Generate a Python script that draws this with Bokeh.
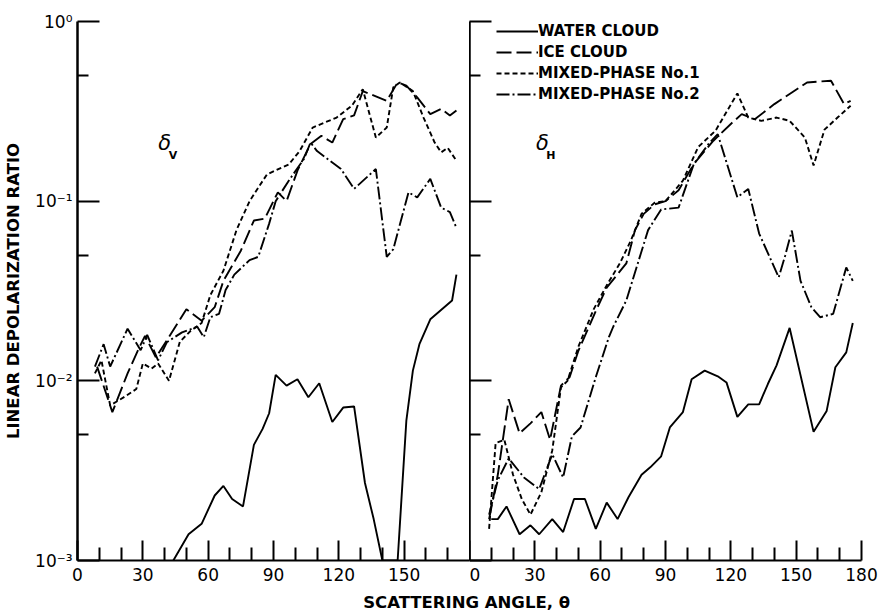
from bokeh.plotting import figure
from bokeh.models import Range1d, FixedTicker, Legend, LegendItem, Label
from bokeh.layouts import row, column
from bokeh.embed import file_html
from bokeh.resources import INLINE

FONT = "DejaVu Sans"
INK = "black"

# ---------------- data ----------------
X_MAJOR_V = [0, 30, 60, 90, 120, 150]
X_MAJOR_H = [0, 30, 60, 90, 120, 150, 180]
X_MINOR = [10, 20, 40, 50, 70, 80, 100, 110, 130, 140, 160, 170]
Y_MAJOR = [0.001, 0.01, 0.1, 1.0]
Y_MAJOR_LABELS = ["10\u207b\u00b3", "10\u207b\u00b2", "10\u207b\u00b9", "10\u2070"]
Y_MINOR = [0.005, 0.05, 0.5]

SERIES = ["WATER CLOUD", "ICE CLOUD", "MIXED-PHASE No.1", "MIXED-PHASE No.2"]

# delta_V panel
water_v_x = [44, 51, 57, 63, 67, 71, 76, 81, 85, 88, 91, 96, 101, 106, 111, 117, 122, 127, 132, 136, 140, 147, 151, 154, 157, 162, 172, 174]
water_v_y = [0.001, 0.0014, 0.0016, 0.0023, 0.0026, 0.0022, 0.002, 0.0044, 0.0054, 0.0066, 0.0108, 0.0094, 0.0102, 0.0081, 0.0097, 0.0059, 0.0071, 0.0072, 0.0027, 0.0017, 0.001, 0.001, 0.006, 0.0114, 0.016, 0.022, 0.028, 0.039]

ice_v_x = [9, 16, 23, 28, 31, 36, 41, 50, 57, 63, 67, 75, 81, 86, 92, 96, 101, 107, 112, 117, 122, 127, 131, 142, 147, 151, 156, 162, 167, 171, 174]
ice_v_y = [0.012, 0.0067, 0.011, 0.015, 0.0178, 0.0135, 0.0168, 0.025, 0.0216, 0.0257, 0.036, 0.053, 0.078, 0.08, 0.112, 0.1, 0.148, 0.208, 0.231, 0.212, 0.286, 0.3, 0.41, 0.362, 0.458, 0.44, 0.378, 0.305, 0.326, 0.3, 0.32]

mix1_v_x = [8, 11, 15, 22, 27, 30, 34, 37, 42, 47, 52, 57, 61, 67, 73, 79, 87, 97, 102, 108, 119, 126, 131, 137, 142, 145, 148, 154, 159, 164, 167, 170, 174]
mix1_v_y = [0.011, 0.013, 0.0073, 0.0082, 0.009, 0.0125, 0.0117, 0.0125, 0.010, 0.0165, 0.019, 0.021, 0.03, 0.041, 0.069, 0.1, 0.141, 0.16, 0.19, 0.257, 0.292, 0.34, 0.42, 0.226, 0.257, 0.43, 0.458, 0.41, 0.29, 0.212, 0.187, 0.198, 0.168]

mix2_v_x = [8, 12, 15, 23, 29, 32, 37, 41, 48, 55, 58, 61, 65, 68, 72, 79, 83, 88, 91, 97, 104, 107, 110, 121, 127, 137, 142, 145, 152, 156, 162, 167, 171, 174]
mix2_v_y = [0.012, 0.016, 0.012, 0.0195, 0.0148, 0.018, 0.013, 0.0164, 0.0186, 0.02, 0.0175, 0.0226, 0.0236, 0.032, 0.039, 0.047, 0.049, 0.075, 0.1, 0.13, 0.172, 0.212, 0.19, 0.151, 0.117, 0.151, 0.049, 0.054, 0.112, 0.105, 0.133, 0.092, 0.087, 0.071]

# delta_H panel
water_h_x = [10, 13, 17, 23, 28, 32, 38, 43, 48, 53, 58, 63, 68, 73, 79, 83, 88, 92, 98, 102, 108, 114, 118, 123, 128, 133, 137, 141, 147, 158, 164, 168, 173, 176]
water_h_y = [0.0017, 0.0017, 0.002, 0.0014, 0.00157, 0.0014, 0.0017, 0.00144, 0.0022, 0.0022, 0.0015, 0.0021, 0.0017, 0.00225, 0.003, 0.0033, 0.0038, 0.0055, 0.0067, 0.0102, 0.0114, 0.0106, 0.0098, 0.0063, 0.0074, 0.0074, 0.0096, 0.0122, 0.0197, 0.0052, 0.0068, 0.0119, 0.0144, 0.021]

ice_h_x = [9, 13, 18, 23, 28, 33, 37, 42, 46, 50, 58, 63, 72, 76, 80, 85, 90, 96, 103, 112, 120, 125, 131, 140, 147, 155, 166, 172, 175]
ice_h_y = [0.0017, 0.003, 0.0079, 0.0051, 0.0058, 0.0067, 0.0047, 0.0094, 0.0105, 0.0147, 0.0245, 0.033, 0.045, 0.069, 0.085, 0.096, 0.1, 0.115, 0.161, 0.217, 0.269, 0.305, 0.286, 0.347, 0.395, 0.458, 0.468, 0.347, 0.362]

mix1_h_x = [9, 12, 16, 20, 24, 28, 33, 38, 42, 45, 50, 57, 63, 69, 74, 79, 85, 90, 98, 105, 113, 123, 128, 134, 141, 147, 154, 158, 163, 169, 175]
mix1_h_y = [0.0015, 0.0045, 0.0047, 0.003, 0.0022, 0.0018, 0.0024, 0.0041, 0.0092, 0.01, 0.0155, 0.025, 0.034, 0.045, 0.06, 0.085, 0.098, 0.1, 0.13, 0.2, 0.247, 0.398, 0.292, 0.28, 0.292, 0.28, 0.226, 0.158, 0.25, 0.292, 0.34]

mix2_h_x = [9, 13, 18, 25, 32, 38, 43, 47, 51, 58, 64, 66, 72, 82, 88, 96, 103, 110, 114, 123, 128, 133, 142, 145, 148, 152, 157, 161, 167, 173, 176]
mix2_h_y = [0.0018, 0.0028, 0.0037, 0.0029, 0.0025, 0.0039, 0.0029, 0.0049, 0.0055, 0.0105, 0.0175, 0.02, 0.028, 0.069, 0.09, 0.092, 0.161, 0.21, 0.236, 0.105, 0.117, 0.066, 0.0377, 0.05, 0.0686, 0.036, 0.0257, 0.0226, 0.0236, 0.0428, 0.036]

# ---------------- styles ----------------
DASHES = ["solid", "15 5", "5 3", "13 3 2 3"]
LW = 1.9
PANEL_H = 590
TOP, BOTTOM = 21, 30


def make_panel(width, bl, br, xticks, left_labels):
    p = figure(width=width, height=PANEL_H, x_range=Range1d(0, 180),
               y_range=Range1d(0.001, 1.0), y_axis_type="log",
               output_backend="svg", toolbar_location=None,
               min_border_left=bl, min_border_right=br,
               min_border_top=TOP, min_border_bottom=BOTTOM)
    p.outline_line_color = None
    p.xgrid.visible = False
    p.ygrid.visible = False
    p.background_fill_color = "white"
    p.border_fill_color = "white"

    xa = p.xaxis[0]
    xa.ticker = FixedTicker(ticks=xticks, minor_ticks=X_MINOR)
    xa.major_tick_in = 20
    xa.major_tick_out = 0
    xa.minor_tick_in = 13
    xa.minor_tick_out = 0
    xa.axis_line_width = 2
    xa.major_tick_line_width = 2
    xa.minor_tick_line_width = 2
    xa.major_label_text_font = FONT
    xa.major_label_text_font_size = "17px"
    xa.major_label_text_color = INK
    xa.major_label_standoff = 7
    xa.axis_line_color = INK

    ya = p.yaxis[0]
    ya.ticker = FixedTicker(ticks=Y_MAJOR, minor_ticks=Y_MINOR)
    ya.major_tick_in = 22
    ya.major_tick_out = 0
    ya.minor_tick_in = 11
    ya.minor_tick_out = 0
    ya.axis_line_width = 2.5
    ya.major_tick_line_width = 2
    ya.minor_tick_line_width = 2
    if left_labels:
        ya.major_label_overrides = {v: l for v, l in zip(Y_MAJOR, Y_MAJOR_LABELS)}
        ya.major_label_text_font = FONT
        ya.major_label_text_font_size = "17px"
        ya.major_label_text_color = INK
        ya.major_label_standoff = 5
        ya.axis_label = "LINEAR DEPOLARIZATION RATIO"
        ya.axis_label_text_font = FONT
        ya.axis_label_text_font_size = "16.5px"
        ya.axis_label_text_font_style = "bold"
        ya.axis_label_text_color = INK
        ya.axis_label_standoff = 9
    else:
        ya.major_label_overrides = {v: "" for v in Y_MAJOR}
        ya.major_label_standoff = 0
    return p


def add_lines(p, xs, ys):
    rs = []
    for x, y, d in zip(xs, ys, DASHES):
        rs.append(p.line(x, y, line_color=INK, line_width=LW, line_dash=d))
    return rs


def add_delta(p, x, y, sub):
    p.add_layout(Label(x=x, y=y, text="\u03b4", text_font=FONT, text_font_size="21px",
                       text_color=INK, text_font_style="italic",
                       text_align="center", text_baseline="middle"))
    p.add_layout(Label(x=x + 3.8, y=y * 0.86, text=sub, text_font=FONT, text_font_size="11px",
                       text_color=INK, text_font_style="bold",
                       text_align="center", text_baseline="middle"))


pv = make_panel(469, 77, 0, X_MAJOR_V, True)
add_lines(pv, [water_v_x, ice_v_x, mix1_v_x, mix2_v_x], [water_v_y, ice_v_y, mix1_v_y, mix2_v_y])
add_delta(pv, 40, 0.21, "V")

ph = make_panel(410, 0, 18, X_MAJOR_H, False)
rs = add_lines(ph, [water_h_x, ice_h_x, mix1_h_x, mix2_h_x], [water_h_y, ice_h_y, mix1_h_y, mix2_h_y])
add_delta(ph, 33.5, 0.21, "H")

frame_h = PANEL_H - TOP - BOTTOM
ROW_H, ROW_GAP = 18, 3
leg_h = 4 * ROW_H + 3 * ROW_GAP
legend = Legend(items=[LegendItem(label=s, renderers=[r]) for s, r in zip(SERIES, rs)],
                location=(27, frame_h - 1 - leg_h), padding=0, margin=0, spacing=ROW_GAP,
                glyph_width=42, glyph_height=ROW_H, label_height=ROW_H, label_standoff=0,
                label_text_font=FONT, label_text_font_size="15px", label_text_font_style="bold",
                label_text_color=INK, label_text_baseline="middle",
                background_fill_alpha=0, border_line_color=None)
ph.add_layout(legend)

pb = figure(width=879, height=24, x_range=Range1d(0, 1), y_range=Range1d(0, 1),
            x_axis_type=None, y_axis_type=None, output_backend="svg", toolbar_location=None,
            min_border_left=77, min_border_right=18, min_border_top=0, min_border_bottom=0)
pb.outline_line_color = None
pb.add_layout(Label(x=0.5, y=0.5, text="SCATTERING  ANGLE, \u03b8", text_font=FONT,
                    text_font_size="16.5px", text_font_style="bold", text_color=INK,
                    text_align="center", text_baseline="middle"))

layout = column(row(pv, ph), pb)
open("out.html", "w").write(file_html(layout, INLINE))
